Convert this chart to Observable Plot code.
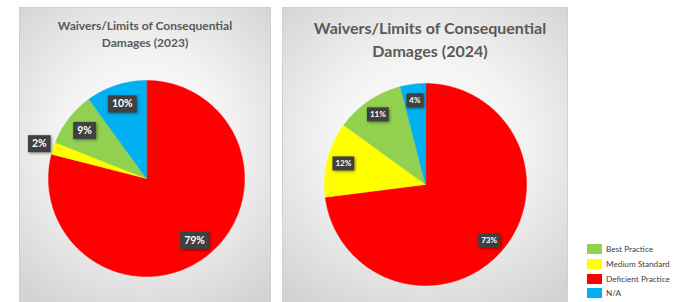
<!DOCTYPE html>
<html><head><meta charset="utf-8">
<script src="https://cdn.jsdelivr.net/npm/d3@7"></script>
<script src="https://cdn.jsdelivr.net/npm/@observablehq/plot@0.6"></script>
<style>
html,body{margin:0;padding:0;background:#fff;width:675px;height:302px;overflow:hidden;position:relative;font-family:Lato,"Open Sans",sans-serif}
.panel{position:absolute;box-sizing:border-box;border:1px solid #d0d0d0;background:radial-gradient(ellipse 75% 65% at 50% 45%, #ffffff 0%, #f3f3f3 45%, #d3d3d3 100%);}
.title{position:absolute;left:0;right:0;text-align:center;color:#595959;font-weight:bold;white-space:pre}
.chart{position:absolute;max-width:none !important}
.legend{position:absolute;left:587px;top:242px;font-size:8.2px;color:#404040;font-family:Lato,sans-serif;white-space:nowrap}
.legend .item{height:14.7px;display:flex;align-items:center}
.legend .sw{width:15px;height:10px;margin-right:4px;flex:none}
</style></head>
<body>
<div id="p1" class="panel" style="left:19px;top:7px;width:252px;height:300px"></div>
<div id="p2" class="panel" style="left:282px;top:7px;width:286px;height:300px"></div>
<div id="legend" class="legend"></div>
<script>
const categories = ["Deficient Practice", "Medium Standard", "Best Practice", "N/A"];
const colors = ["#ff0000", "#ffff00", "#92d050", "#00b0f0"];
const values2023 = [79, 2, 9, 10];
const values2024 = [73, 12, 11, 4];
const legendOrder = ["Best Practice", "Medium Standard", "Deficient Practice", "N/A"];
const title2023 = ["Waivers/Limits of Consequential", "Damages (2023)"];
const title2024 = ["Waivers/Limits of Consequential", "Damages (2024)"];

function pieChart(values, o) {
  const arcs = d3.pie().sort(null).startAngle(0).endAngle(2 * Math.PI)(values);
  const total = d3.sum(values);
  const pts = [];
  arcs.forEach((a, i) => {
    pts.push({k: categories[i], x: 0, y: 0});
    const n = Math.max(2, Math.ceil((a.endAngle - a.startAngle) / (Math.PI / 180)));
    for (let j = 0; j <= n; j++) {
      const t = a.startAngle + (a.endAngle - a.startAngle) * j / n;
      pts.push({k: categories[i], x: Math.sin(t), y: Math.cos(t)});
    }
  });
  const labels = arcs.map((a, i) => {
    const m = (a.startAngle + a.endAngle) / 2;
    const r = a.value / total < 0.05 && o.outsideSmall ? 1.15 : o.lr;
    return {x: r * Math.sin(m), y: r * Math.cos(m), text: a.value + "%"};
  });
  const fs = o.fs;
  const font = `bold ${fs}px Lato`;
  const k = o.k;
  return Plot.plot({
    width: o.size, height: o.size, margin: 0,
    x: {domain: [-k, k], axis: null},
    y: {domain: [-k, k], axis: null},
    color: {domain: categories, range: colors},
    style: {background: "transparent", overflow: "visible", maxWidth: "none"},
    marks: [
      Plot.line(pts, {x: "x", y: "y", z: "k", fill: "k", stroke: "k", strokeWidth: 0.5, curve: "linear-closed"}),
      Plot.text(labels, {
        x: "x", y: "y", text: "text", fill: "white", fontWeight: "bold", fontSize: fs, fontFamily: "Lato",
        render(index, scales, values, dims, context, next) {
          const g = next(index, scales, values, dims, context);
          const ctx = document.createElement("canvas").getContext("2d");
          ctx.font = font;
          const ns = "http://www.w3.org/2000/svg";
          const bg = document.createElementNS(ns, "g");
          bg.setAttribute("style", "filter: drop-shadow(1.5px 1.5px 1.5px rgba(0,0,0,0.45))");
          for (const i of index) {
            const w = ctx.measureText(labels[i].text).width + o.padX * 2;
            const h = o.boxH;
            const r = document.createElementNS(ns, "rect");
            r.setAttribute("x", values.x[i] - w / 2);
            r.setAttribute("y", values.y[i] - h / 2);
            r.setAttribute("width", w);
            r.setAttribute("height", h);
            r.setAttribute("fill", "#404040");
            bg.appendChild(r);
          }
          g.insertBefore(bg, g.firstChild);
          return g;
        }
      })
    ]
  });
}

function place(panelId, titleLines, titleStyle, chart, cx, cy, size, panelLeft, panelTop) {
  const p = document.getElementById(panelId);
  const t = document.createElement("div");
  t.className = "title";
  Object.assign(t.style, titleStyle);
  t.textContent = titleLines.join("\n");
  p.appendChild(t);
  chart.classList.add("chart");
  chart.style.left = (cx - size / 2 - panelLeft) + "px";
  chart.style.top = (cy - size / 2 - panelTop) + "px";
  chart.style.maxWidth = "none";
  p.appendChild(chart);
}

const R1 = 98, S1 = 262;
const c1 = pieChart(values2023, {k: (S1 / 2) / R1, size: S1, lr: 0.8, outsideSmall: true, fs: 10.5, padX: 4, boxH: 17});
place("p1", title2023, {top: "9px", fontSize: "12px", lineHeight: "17px"}, c1, 146, 178, S1, 20, 8);

const R2 = 101, S2 = 262;
const c2 = pieChart(values2024, {k: (S2 / 2) / R2, size: S2, lr: 0.84, outsideSmall: false, fs: 8, padX: 3, boxH: 14});
place("p2", title2024, {top: "8px", fontSize: "16px", lineHeight: "23px", paddingLeft: "10px"}, c2, 425, 184, S2, 283, 8);

const leg = document.getElementById("legend");
for (const name of legendOrder) {
  const it = document.createElement("div");
  it.className = "item";
  const sw = document.createElement("span");
  sw.className = "sw";
  sw.style.background = colors[categories.indexOf(name)];
  const tx = document.createElement("span");
  tx.textContent = name;
  it.appendChild(sw); it.appendChild(tx);
  leg.appendChild(it);
}
</script>
</body></html>
